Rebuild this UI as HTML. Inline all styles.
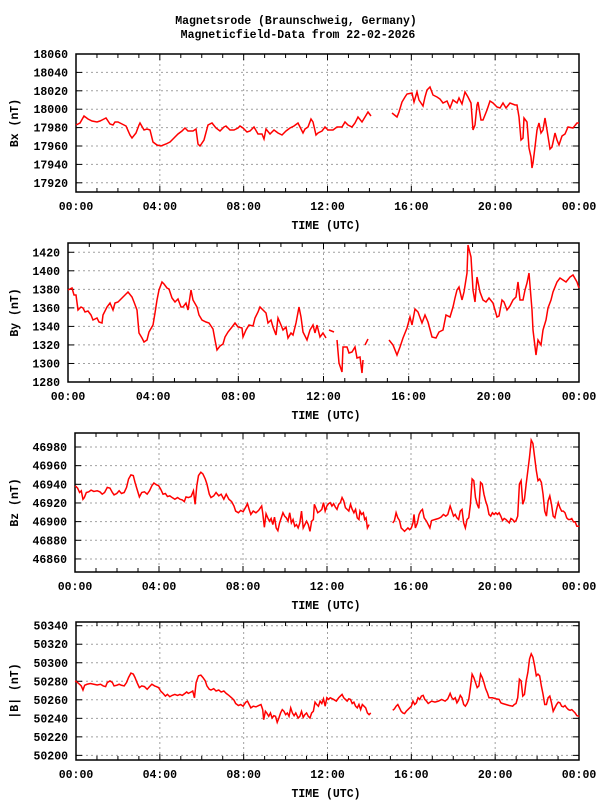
<!DOCTYPE html>
<html><head><meta charset="utf-8"><style>
html,body{margin:0;padding:0;background:#fff;}
svg{display:block;font-family:"Liberation Mono","DejaVu Sans Mono",monospace;font-weight:bold;font-size:11.5px;}
</style></head><body>
<svg id="s" width="600" height="800" viewBox="0 0 600 800" xmlns="http://www.w3.org/2000/svg">
<rect width="600" height="800" fill="#fff"/>
<text x="296" y="24" text-anchor="middle">Magnetsrode (Braunschweig, Germany)</text>
<text x="298" y="38" text-anchor="middle">Magneticfield-Data from 22-02-2026</text>
</svg>
<script>
var NS="http://www.w3.org/2000/svg",S=document.getElementById('s');
function el(n,a,p){var e=document.createElementNS(NS,n);for(var k in a)e.setAttribute(k,a[k]);(p||S).appendChild(e);return e;}
function txt(x,y,t,an,extra){var e=el('text',Object.assign({x:x,y:y,'text-anchor':an||'middle'},extra||{}));e.textContent=t;return e;}
var P=[
{l:76,r:579,t:54,b:192,y0:17910,y1:18060,tk:[17920,17940,17960,17980,18000,18020,18040,18060],lab:'Bx (nT)'},
{l:68,r:579,t:243,b:382,y0:1280,y1:1430,tk:[1280,1300,1320,1340,1360,1380,1400,1420],lab:'By (nT)'},
{l:75,r:579,t:433,b:572,y0:46846,y1:46995,tk:[46860,46880,46900,46920,46940,46960,46980],lab:'Bz (nT)'},
{l:76,r:579,t:622,b:760,y0:50195,y1:50344,tk:[50200,50220,50240,50260,50280,50300,50320,50340],lab:'|B| (nT)'}];
P.forEach(function(p){
 var W=p.r-p.l,H=p.b-p.t;
 function Y(v){return p.b-(v-p.y0)/(p.y1-p.y0)*H;}
 p.tk.forEach(function(v){var y=Y(v);
  if(y>p.t+1&&y<p.b-1) el('line',{x1:p.l,x2:p.r,y1:y,y2:y,stroke:'#a0a0a0','stroke-dasharray':'2,3','stroke-width':1});
  el('line',{x1:p.l,x2:p.l+6,y1:y,y2:y,stroke:'#000'});el('line',{x1:p.r-6,x2:p.r,y1:y,y2:y,stroke:'#000'});
  txt(p.l-8,y+4,String(v),'end');});
 for(var h=0;h<=24;h++){var x=p.l+W*h/24;
  if(h%4==0){ if(h>0&&h<24) el('line',{x1:x,x2:x,y1:p.t,y2:p.b,stroke:'#a0a0a0','stroke-dasharray':'2,3'});
   txt(x,p.b+18,(h==24?'00':(h<10?'0'+h:h))+':00');}
  el('line',{x1:x,x2:x,y1:p.b,y2:p.b-(h%4?4:6),stroke:'#000'});el('line',{x1:x,x2:x,y1:p.t,y2:p.t+(h%4?4:6),stroke:'#000'});}
 el('rect',{x:p.l,y:p.t,width:W,height:H,fill:'none',stroke:'#000','stroke-width':1.5});
 txt(326,p.b+37,'TIME (UTC)');
 var cy=(p.t+p.b)/2;txt(18,cy,p.lab,'middle',{transform:'rotate(-90 18 '+cy+')'});
});
function line(pts,g){el('polyline',{points:pts,fill:'none',stroke:'#f00','stroke-width':1.5,'stroke-linejoin':'miter','vector-effect':'non-scaling-stroke'},g);}
line("76,125 80,123 84,116 88,119 92,121 97,122 100,121 104,119 106,118 110,124 113,125 115,122 118,122 122,124 126,126 130,135 132,138 136,133 139,125 140,123 144,130 147,129 150,130 153,142 157,145 161,146 166,144 170,142 174,138 178,134 182,131 185,128 188,131 193,131 196,129 198,144 200,146 204,140 208,125 212,123 216,128 220,131 224,127 226,126 230,130 234,130 238,128 240,126 243,128 247,132 250,131 254,127 258,134 262,134 264,139 266,129 270,134 274,130 278,133 282,135 286,131 290,128 294,126 298,123 300,127 303,133 305,129 308,127 311,119 313,122 316,135 318,133 322,131 325,127 328,130 333,130 337,127 342,127 345,122 348,125 352,127 355,123 358,117 362,122 365,117 368,112 371,116");
line("392,113 397,117 399,112 402,102 405,97 407,94 412,93 414,102 417,92 419,100 423,106 425,97 427,90 430,87 433,95 437,97 440,99 443,103 447,101 450,108 453,100 457,103 459,98 462,104 465,92 468,97 471,103 473,130 475,125 477,105 478,102 481,120 483,120 487,110 490,101 493,103 497,107 500,108 503,103 506,108 510,103 515,105 517,105 519,117 521,140 523,138 524,118 527,122 529,148 531,157 532,168 533,163 535,147 537,130 539,123 541,133 543,130 545,118 547,130 550,149 552,147 555,133 557,140 559,145 562,136 565,134 568,127 573,128 577,123 579,123");
line("68,290 72,288 74,295 76,295 78,310 81,307 83,308 85,312 88,311 91,315 93,320 97,318 99,322 102,323 103,315 107,307 110,303 113,310 115,303 118,302 122,298 125,295 128,292 132,297 134,302 137,310 139,333 142,338 144,342 147,340 149,332 153,325 155,313 157,300 159,290 162,282 164,284 167,288 169,289 172,298 175,302 178,299 181,307 183,307 186,303 188,310 191,290 193,300 197,307 199,315 202,320 206,322 209,323 213,329 215,340 217,350 220,346 223,344 225,337 228,332 232,327 235,323 238,327 242,328 243,337 246,330 249,325 253,326 255,318 258,312 260,307 263,310 266,313 268,323 271,320 273,327 276,335 278,318 281,325 283,330 286,327 288,338 291,333 293,335 296,323 299,307 301,317 303,332 307,340 310,330 313,325 315,333 317,325 320,337 323,333 326,338");
line("329,330 334,332");
line("337,340 339,363 342,372 343,347 347,347 349,353 352,352 355,347 357,358 360,357 362,373 363,360");
line("365,345 368,339");
line("389,340 393,345 397,355 400,347 403,338 407,328 410,317 412,325 415,309 418,312 422,323 425,315 428,322 432,337 436,338 439,332 443,330 446,315 450,317 453,307 455,298 457,290 459,287 462,300 464,292 467,273 468,245 471,257 473,290 475,302 477,277 480,292 483,300 486,302 489,298 493,303 497,317 499,316 502,300 504,302 507,310 510,306 513,300 516,297 518,282 520,300 523,300 525,290 527,283 529,273 532,310 533,330 536,355 538,340 541,345 543,330 546,320 548,308 551,300 553,292 557,282 560,278 563,280 566,282 570,277 573,275 577,282 579,288");
var g3=el('g',{transform:'translate(60,430) scale(0.3378)'});
line("45,165 52,172 58,185 63,180 68,205 72,200 78,185 85,183 92,178 100,182 110,180 118,183 125,190 132,185 140,170 148,172 155,185 160,192 168,188 175,180 182,188 190,185 197,170 203,145 210,133 217,135 222,155 228,175 235,198 242,185 250,183 258,190 265,180 272,165 278,157 285,162 292,165 298,175 305,190 312,188 318,197 325,195 332,200 340,205 348,200 355,205 362,207 368,212 373,198 380,200 388,197 395,180 400,220 405,165 410,135 417,125 423,130 430,145 435,160 442,190 447,200 455,195 462,185 470,195 477,190 485,205 492,190 500,205 508,212 515,225 520,240 528,245 535,238 542,242 550,228 555,218 560,235 565,250 572,240 580,245 588,238 597,225 600,245 605,288 610,248 615,260 620,270 625,262 630,280 635,258 640,290 645,298 650,275 655,260 660,245 665,255 670,260 675,270 680,245 685,275 690,265 695,285 700,280 705,290 710,275 715,240 720,290 725,280 730,270 735,280 740,300 745,270 750,265 753,220 758,232 763,245 770,240 775,235 780,215 785,240 790,225 795,218 800,215 805,225 810,218 815,228 820,235 825,220 830,215 835,200 840,210 845,230 850,235 855,240 860,220 865,235 870,245 875,235 880,260 885,265 888,240 893,250 898,245 902,265 906,260 910,290 915,280",g3);
line("985,275 990,268 995,245 1000,260 1005,268 1010,290 1015,295 1020,300 1025,295 1030,290 1035,295 1040,290 1045,275 1048,250 1052,290 1058,275 1063,250 1068,240 1073,235 1078,260 1085,270 1090,280 1095,290 1100,268 1110,265 1120,262 1128,258 1135,250 1142,255 1148,250 1155,225 1160,240 1165,255 1170,250 1175,260 1180,265 1185,240 1190,235 1195,275 1200,290 1205,265 1210,260 1215,220 1220,145 1225,150 1230,200 1235,220 1240,232 1245,155 1250,160 1255,190 1260,210 1265,225 1270,250 1275,255 1280,245 1285,250 1290,245 1295,250 1300,245 1305,255 1310,268 1315,262 1320,265 1325,270 1330,275 1335,262 1340,265 1345,272 1350,268 1355,255 1360,160 1365,150 1370,220 1375,205 1380,160 1385,120 1390,80 1395,30 1400,40 1405,80 1410,120 1415,150 1420,145 1425,155 1430,190 1435,240 1440,255 1445,210 1450,195 1455,220 1460,255 1465,260 1470,235 1475,215 1480,230 1485,240 1490,240 1495,245 1500,260 1505,265 1510,265 1515,262 1520,272 1525,272 1530,285 1537,285",g3);
var g4=el('g',{transform:'translate(60,615) scale(0.3378)'});
line("45,195 52,200 58,205 63,210 68,222 73,208 80,205 90,203 100,205 110,207 120,205 128,210 135,212 140,200 148,195 155,200 160,210 168,208 175,205 182,208 190,210 197,200 203,185 210,172 217,175 222,185 228,200 235,215 242,210 250,212 258,220 265,212 272,205 280,210 285,212 292,215 298,225 305,232 312,240 318,235 325,242 332,238 340,235 348,238 355,235 362,238 370,232 375,228 380,232 388,228 393,225 398,245 403,200 410,180 417,178 423,185 430,195 435,210 442,220 447,222 455,218 462,225 470,222 477,228 485,225 492,232 500,238 508,245 515,252 520,262 528,268 535,265 542,270 550,258 555,255 560,265 565,275 572,270 580,272 588,268 595,265 600,280 603,310 608,285 612,290 618,300 623,290 628,305 633,298 638,300 643,318 648,305 653,290 658,280 663,285 668,295 673,290 678,300 683,275 688,290 693,298 698,290 705,305 710,300 715,285 720,303 725,295 730,290 735,300 740,305 745,290 750,285 755,258 760,265 765,270 770,255 775,262 780,248 785,270 790,245 795,250 800,245 810,250 818,255 825,245 830,240 835,235 840,245 845,250 850,255 855,248 860,250 865,262 870,258 875,270 880,275 885,265 890,280 895,265 900,270 905,275 910,290 915,295 920,290",g4);
line("985,282 990,278 995,270 1000,265 1005,275 1010,285 1015,290 1020,292 1025,285 1030,280 1035,275 1040,270 1045,255 1050,265 1055,260 1060,245 1065,250 1070,240 1075,238 1080,250 1085,255 1090,262 1100,255 1110,258 1120,255 1130,250 1140,255 1148,248 1155,232 1160,245 1165,250 1170,245 1175,260 1180,252 1185,238 1190,245 1195,265 1200,270 1205,262 1210,250 1215,215 1220,175 1225,185 1230,200 1235,215 1240,210 1245,175 1250,185 1255,200 1260,218 1265,230 1270,245 1280,245 1290,248 1300,250 1305,260 1310,262 1320,265 1330,268 1340,270 1345,265 1350,262 1355,245 1360,190 1365,195 1370,240 1375,235 1380,195 1385,170 1390,130 1395,115 1400,125 1405,150 1410,180 1415,175 1420,180 1425,210 1430,235 1435,265 1440,265 1445,245 1450,240 1455,260 1460,285 1465,275 1470,265 1475,258 1480,260 1485,270 1490,272 1495,268 1500,275 1505,280 1510,282 1515,280 1520,285 1525,290 1530,298 1537,300",g4);
</script>
</body></html>
